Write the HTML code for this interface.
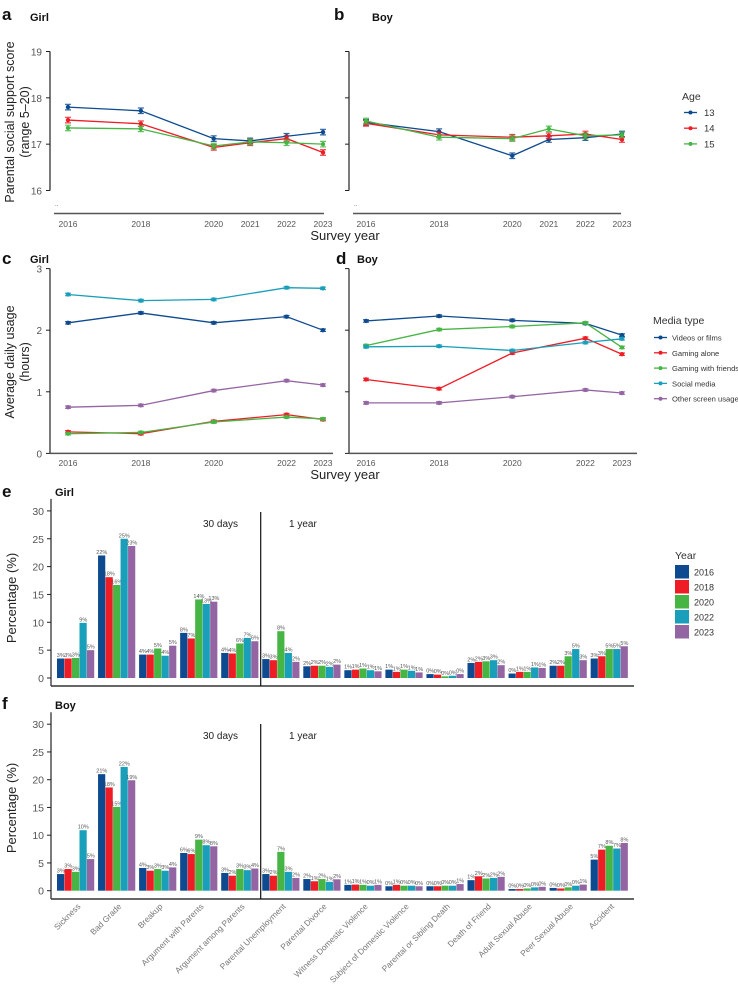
<!DOCTYPE html>
<html><head><meta charset="utf-8"><title>Figure</title>
<style>
html,body{margin:0;padding:0;background:#fff;}
svg{display:block;font-family:"Liberation Sans",Arial,sans-serif;}
.tk{font-size:10px;fill:#555;}
.ttl{font-size:11px;font-weight:bold;fill:#111;}
.pl{font-size:17px;font-weight:bold;fill:#111;}
.ax{font-size:12.5px;fill:#222;}
.lg{font-size:9.5px;fill:#333;}
</style></head>
<body>
<svg id="fig" width="738" height="984" viewBox="0 0 738 984">
  <text class="pl" x="2" y="20">a</text>
  <text class="ttl" x="30" y="21">Girl</text>
  <text class="pl" x="334" y="20">b</text>
  <text class="ttl" x="372" y="21">Boy</text>
  <text class="ax" transform="translate(14,122) rotate(-90)" text-anchor="middle">Parental social support score</text>
  <text class="ax" transform="translate(29,122) rotate(-90)" text-anchor="middle">(range 5–20)</text>
  <text class="ax" x="345" y="240" text-anchor="middle" style="font-size:13px">Survey year</text>
  <text class="lg" x="682" y="100" style="font-size:10.5px">Age</text>

  <text class="pl" x="2" y="264">c</text>
  <text class="ttl" x="30" y="263">Girl</text>
  <text class="pl" x="336" y="264">d</text>
  <text class="ttl" x="357" y="263">Boy</text>
  <text class="ax" transform="translate(14,362) rotate(-90)" text-anchor="middle">Average daily usage</text>
  <text class="ax" transform="translate(29,362) rotate(-90)" text-anchor="middle">(hours)</text>
  <text class="ax" x="345" y="479" text-anchor="middle" style="font-size:13px">Survey year</text>
  <text class="lg" x="653" y="324" style="font-size:10.5px">Media type</text>

  <text class="pl" x="2" y="497">e</text>
  <text class="ttl" x="55" y="496">Girl</text>
  <text class="ax" transform="translate(16,598) rotate(-90)" text-anchor="middle" style="font-size:13px">Percentage (%)</text>
  <text x="203" y="527" style="font-size:10px;fill:#222">30 days</text>
  <text x="289" y="527" style="font-size:10px;fill:#222">1 year</text>
  <text class="lg" x="675" y="559" style="font-size:10.5px">Year</text>

  <text class="pl" x="2" y="709">f</text>
  <text class="ttl" x="55" y="709">Boy</text>
  <text class="ax" transform="translate(16,808) rotate(-90)" text-anchor="middle" style="font-size:13px">Percentage (%)</text>
  <text x="203" y="739" style="font-size:10px;fill:#222">30 days</text>
  <text x="289" y="739" style="font-size:10px;fill:#222">1 year</text>
</svg>
<script>
// ---------- data ----------
const yearsAB = [2016, 2018, 2020, 2021, 2022, 2023];
const ages = ["13", "14", "15"];
const girl13 = [17.80, 17.72, 17.12, 17.07, 17.17, 17.26];
const girl14 = [17.52, 17.44, 16.93, 17.03, 17.12, 16.82];
const girl15 = [17.35, 17.33, 16.96, 17.05, 17.03, 17.00];
const boy13 = [17.47, 17.27, 16.75, 17.10, 17.14, 17.22];
const boy14 = [17.45, 17.20, 17.15, 17.18, 17.22, 17.10];
const boy15 = [17.50, 17.15, 17.12, 17.33, 17.18, 17.20];
const supportTicks = [16, 17, 18, 19];

const yearsCD = [2016, 2018, 2020, 2022, 2023];
const mediaTypes = ["Videos or films", "Gaming alone", "Gaming with friends", "Social media", "Other screen usage"];
const girlVideos = [2.12, 2.28, 2.12, 2.22, 2.00];
const girlGamingAlone = [0.35, 0.32, 0.52, 0.63, 0.55];
const girlGamingFriends = [0.32, 0.34, 0.51, 0.59, 0.56];
const girlSocial = [2.58, 2.48, 2.50, 2.69, 2.68];
const girlOther = [0.75, 0.78, 1.02, 1.18, 1.11];
const boyVideos = [2.15, 2.23, 2.16, 2.11, 1.92];
const boyGamingAlone = [1.20, 1.05, 1.63, 1.87, 1.61];
const boyGamingFriends = [1.75, 2.01, 2.06, 2.12, 1.72];
const boySocial = [1.73, 1.74, 1.67, 1.80, 1.86];
const boyOther = [0.82, 0.82, 0.92, 1.03, 0.98];
const usageTicks = [0, 1, 2, 3];

const events = ["Sickness", "Bad Grade", "Breakup", "Argument with Parents", "Argument among Parents", "Parental Unemployment", "Parental Divorce", "Witness Domestic Violence", "Subject of Domestic Violence", "Parental or Sibling Death", "Death of Friend", "Adult Sexual Abuse", "Peer Sexual Abuse", "Accident"];
const barYears = ["2016", "2018", "2020", "2022", "2023"];
const girl2016 = [3.5, 22.0, 4.2, 8.1, 4.5, 3.4, 2.1, 1.4, 1.5, 0.7, 2.7, 0.8, 2.2, 3.5];
const girl2018 = [3.5, 18.1, 4.2, 7.1, 4.4, 3.2, 2.2, 1.5, 1.1, 0.6, 2.9, 1.1, 2.2, 3.9];
const girl2020 = [3.6, 16.7, 5.3, 14.1, 6.2, 8.4, 2.2, 1.7, 1.5, 0.3, 3.0, 1.1, 3.9, 5.2];
const girl2022 = [9.9, 25.0, 4.0, 13.3, 7.2, 4.5, 2.0, 1.4, 1.3, 0.4, 3.2, 1.9, 5.2, 5.2];
const girl2023 = [5.0, 23.7, 5.8, 13.7, 6.6, 2.9, 2.4, 1.2, 1.0, 0.7, 2.3, 1.8, 3.2, 5.7];
const boy2016 = [3.0, 21.0, 4.1, 6.8, 3.2, 3.0, 2.1, 1.05, 0.8, 0.8, 1.9, 0.3, 0.5, 5.6];
const boy2018 = [3.9, 18.6, 3.6, 6.6, 2.7, 2.7, 1.7, 1.1, 1.05, 0.8, 2.6, 0.3, 0.4, 7.4];
const boy2020 = [3.4, 15.1, 3.9, 9.2, 3.9, 7.0, 2.1, 1.05, 0.9, 0.9, 2.2, 0.4, 0.6, 8.1];
const boy2022 = [10.9, 22.3, 3.6, 8.2, 3.7, 3.4, 1.6, 0.9, 0.9, 0.9, 2.3, 0.6, 0.9, 7.6];
const boy2023 = [5.7, 19.9, 4.2, 8.0, 4.0, 2.3, 2.05, 1.05, 0.8, 1.2, 2.5, 0.7, 1.1, 8.6];
const pctTicks = [0, 5, 10, 15, 20, 25, 30];

// ---------- helpers ----------
const NS = "http://www.w3.org/2000/svg";
const svg = document.getElementById("fig");
function mk(tag, attrs, parent) {
  const e = document.createElementNS(NS, tag);
  for (const k in attrs) e.setAttribute(k, attrs[k]);
  (parent || svg).appendChild(e);
  return e;
}
const cBlue = "#0d4a8f", cRed = "#ee1c25", cGreen = "#46b544", cTeal = "#1a9fba", cPurple = "#9465a3";
const yearCols = [cBlue, cRed, cGreen, cTeal, cPurple];

const xA = y => 68 + (y - 2016) * 36.43;
const xB = y => 366 + (y - 2016) * 36.57;
const ySup = v => 51.5 + (19 - v) * 46.33;
const yUse = v => 453.4 - v * 61.6;
const yE = v => 678 - v * 5.57;
const yF = v => 890.7 - v * 5.55;
const xGroup = i => 57 + i * 41.05;
const BW = 7.5;

// ---------- panels a/b ----------
function lineAxisAB(x0, xEnd, labels, xf, yearsArr, name) {
  const ax = mk("line", {x1: x0, x2: x0, y1: ySup(19), y2: ySup(16), stroke: "#222", "stroke-width": 1.2});
  
  
  supportTicks.forEach(t => {
    const tk = mk("line", {x1: x0 - 4, x2: x0, y1: ySup(t), y2: ySup(t), stroke: "#222", "stroke-width": 1});
    
    
    if (labels) {
      const tl = mk("text", {x: x0 - 8, y: ySup(t) + 4, "text-anchor": "end", class: "tk"});
      tl.textContent = t;
      
      
    }
  });
  const xl = mk("line", {x1: x0 + 4, x2: xEnd, y1: 213.5, y2: 213.5, stroke: "#555", "stroke-width": 1.5});
  
  
  const dots = mk("text", {x: x0 + 5, y: 206, class: "tk", style: "font-size:6px"});
  dots.textContent = "..";
  
  
  yearsArr.forEach(y => {
    const t = mk("text", {x: xf(y), y: 227, "text-anchor": "middle", class: "tk", style: "font-size:8.5px"});
    t.textContent = y;
    
    
  });
}
function series(xs, vals, xf, yf, col, err, name) {
  const pts = xs.map((x, i) => xf(x) + "," + yf(vals[i])).join(" ");
  const pl = mk("polyline", {points: pts, fill: "none", stroke: col, "stroke-width": 1.3});
  
  
  xs.forEach((x, i) => {
    const cx = xf(x), cy = yf(vals[i]);
    const e1 = yf(vals[i] + err), e2 = yf(vals[i] - err);
    const eb = mk("path", {d: `M${cx - 3},${e1}H${cx + 3}M${cx},${e1}V${e2}M${cx - 3},${e2}H${cx + 3}`, stroke: col, "stroke-width": 1.2, fill: "none", opacity: 0.85});
    
    
    const c = mk("circle", {cx: cx, cy: cy, r: 2.2, fill: col});
    
    
  });
}
lineAxisAB(50, 324, true, xA, yearsAB, "panel-a");
lineAxisAB(349, 621, false, xB, yearsAB, "panel-b");
const ageCols = [cBlue, cRed, cGreen];
[girl13, girl14, girl15].forEach((s, i) => series(yearsAB, s, xA, ySup, ageCols[i], 0.06, "girl-age-" + ages[i]));
[boy13, boy14, boy15].forEach((s, i) => series(yearsAB, s, xB, ySup, ageCols[i], 0.06, "boy-age-" + ages[i]));
ages.forEach((a, i) => {
  const y = 112.5 + i * 15.7;
  const l = mk("line", {x1: 684, x2: 697, y1: y, y2: y, stroke: ageCols[i], "stroke-width": 1.3});
  
  
  const c = mk("circle", {cx: 690.5, cy: y, r: 2, fill: ageCols[i]});
  
  
  const t = mk("text", {x: 704, y: y + 3.5, class: "lg"});
  t.textContent = a;
  
  
});

// ---------- panels c/d ----------
function lineAxisCD(x0, xEnd, labels, xf, name) {
  const ax = mk("line", {x1: x0, x2: x0, y1: yUse(3), y2: yUse(0), stroke: "#222", "stroke-width": 1.2});
  
  
  usageTicks.forEach(t => {
    const tk = mk("line", {x1: x0 - 4, x2: x0, y1: yUse(t), y2: yUse(t), stroke: "#222", "stroke-width": 1});
    
    
    if (labels) {
      const tl = mk("text", {x: x0 - 8, y: yUse(t) + 4, "text-anchor": "end", class: "tk"});
      tl.textContent = t;
      
      
    }
  });
  const xl = mk("line", {x1: x0, x2: xEnd, y1: yUse(0), y2: yUse(0), stroke: "#555", "stroke-width": 1.5});
  
  
  yearsCD.forEach(y => {
    const t = mk("text", {x: xf(y), y: 466, "text-anchor": "middle", class: "tk", style: "font-size:8.5px"});
    t.textContent = y;
    
    
  });
}
lineAxisCD(50, 333, true, xA, "panel-c");
lineAxisCD(349, 637, false, xB, "panel-d");
const mediaCols = [cBlue, cRed, cGreen, cTeal, cPurple];
[girlVideos, girlGamingAlone, girlGamingFriends, girlSocial, girlOther].forEach((s, i) => series(yearsCD, s, xA, yUse, mediaCols[i], 0.02, "girl-media-" + i));
[boyVideos, boyGamingAlone, boyGamingFriends, boySocial, boyOther].forEach((s, i) => series(yearsCD, s, xB, yUse, mediaCols[i], 0.02, "boy-media-" + i));
mediaTypes.forEach((m, i) => {
  const y = 337.5 + i * 15.3;
  const l = mk("line", {x1: 654, x2: 667, y1: y, y2: y, stroke: mediaCols[i], "stroke-width": 1.3});
  
  
  const c = mk("circle", {cx: 660.5, cy: y, r: 2, fill: mediaCols[i]});
  
  
  const t = mk("text", {x: 672, y: y + 3, class: "lg", style: "font-size:7.6px"});
  t.textContent = m;
  
  
});

// ---------- panels e/f ----------
function barPanel(seriesArr, yf, top, axisY, name) {
  const ax = mk("line", {x1: 51, x2: 51, y1: yf(30) - 12, y2: axisY, stroke: "#222", "stroke-width": 1.2});
  
  
  pctTicks.forEach(t => {
    const tk = mk("line", {x1: 47, x2: 51, y1: yf(t), y2: yf(t), stroke: "#222", "stroke-width": 1});
    
    
    const tl = mk("text", {x: 44, y: yf(t) + 4, "text-anchor": "end", class: "tk", style: "font-size:10.5px"});
    tl.textContent = t;
    
    
  });
  const xl = mk("line", {x1: 51, x2: 634, y1: axisY, y2: axisY, stroke: "#333", "stroke-width": 1.5});
  
  
  const sep = mk("line", {x1: 260.7, x2: 260.7, y1: top, y2: axisY, stroke: "#111", "stroke-width": 1.2});
  
  
  events.forEach((ev, i) => {
    seriesArr.forEach((s, j) => {
      const x = xGroup(i) + j * BW, v = s[i];
      const r = mk("rect", {x: x, y: yf(v), width: BW - 0.3, height: yf(0) - yf(v), fill: yearCols[j]});
      
      
      const t = mk("text", {x: x + BW / 2, y: yf(v) - 1.5, "text-anchor": "middle", style: "font-size:5.5px;fill:#555"});
      t.textContent = Math.floor(v) + "%";
      
      
    });
  });
}
barPanel([girl2016, girl2018, girl2020, girl2022, girl2023], yE, 512, 686, "panel-e");
barPanel([boy2016, boy2018, boy2020, boy2022, boy2023], yF, 724, 899, "panel-f");
events.forEach((ev, i) => {
  const x = xGroup(i) + 24, y = 907;
  const t = mk("text", {x: x, y: y, "text-anchor": "end", transform: `rotate(-45 ${x} ${y})`, style: "font-size:8.3px;fill:#777"});
  t.textContent = ev;
  
  
});
barYears.forEach((y, i) => {
  const yy = 565 + i * 15;
  const r = mk("rect", {x: 675, y: yy, width: 14, height: 13.5, fill: yearCols[i]});
  
  
  const t = mk("text", {x: 694, y: yy + 10.5, class: "lg", style: "font-size:9px"});
  t.textContent = y;
  
  
});
</script>
</body></html>
